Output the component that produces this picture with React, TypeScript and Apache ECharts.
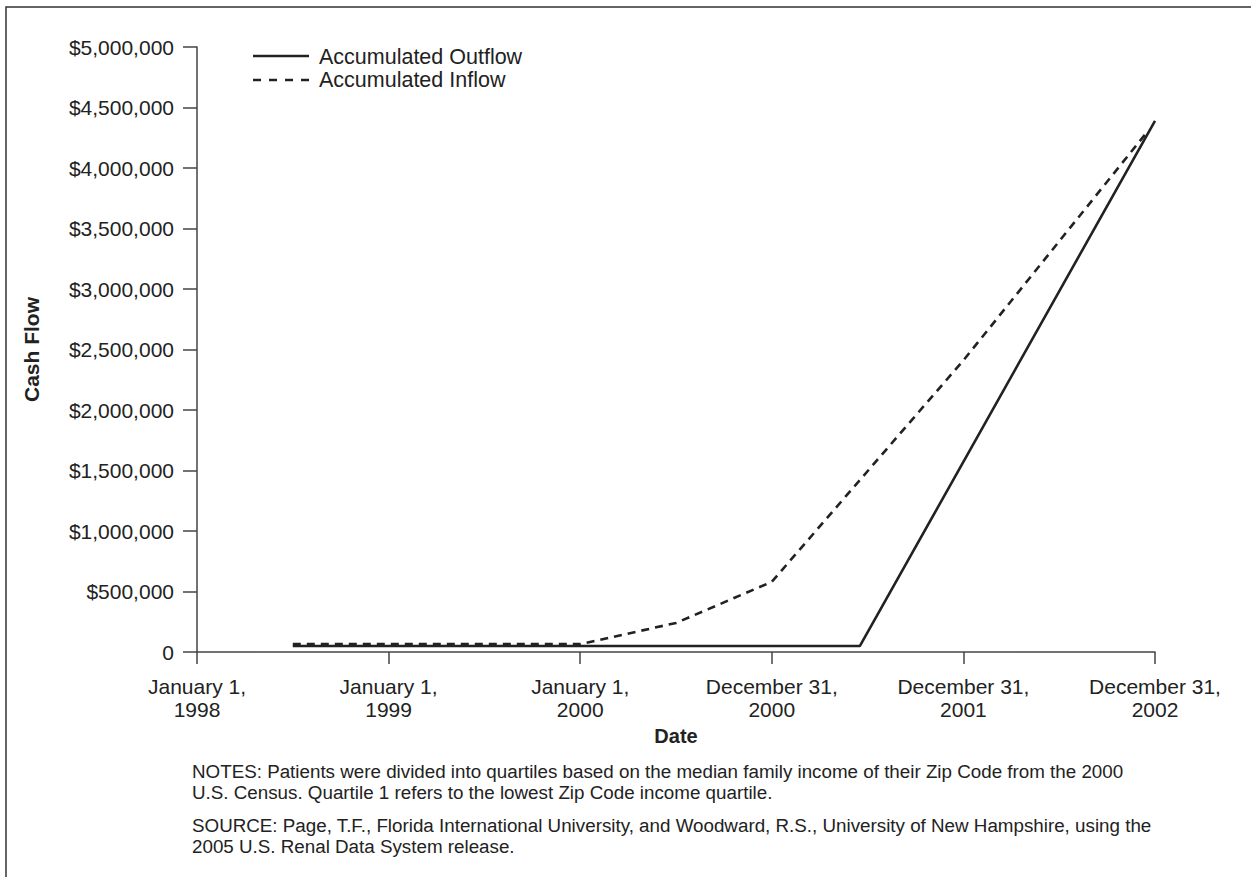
import React, { useEffect, useRef } from "react";
import * as echarts from "echarts";

const categories = [
  "January 1,\n1998",
  "January 1,\n1999",
  "January 1,\n2000",
  "December 31,\n2000",
  "December 31,\n2001",
  "December 31,\n2002",
];

// x positions on the date axis (0 = January 1, 1998 ... 5 = December 31, 2002)
const outflowX = [0.5, 3.46, 5];
const outflowY = [50000, 50000, 4390000];

const inflowX = [0.5, 2, 2.5, 3, 4, 4.96];
const inflowY = [65000, 65000, 240000, 580000, 2410000, 4300000];

const yTicks = { min: 0, max: 5000000, interval: 500000 };

const seriesNames = ["Accumulated Outflow", "Accumulated Inflow"];

const notes = [
  "NOTES: Patients were divided into quartiles based on the median family income of their Zip Code from the 2000",
  "U.S. Census. Quartile 1 refers to the lowest Zip Code income quartile.",
];
const source = [
  "SOURCE: Page, T.F., Florida International University, and Woodward, R.S., University of New Hampshire, using the",
  "2005 U.S. Renal Data System release.",
];

const FONT = "'Liberation Sans', Arial, Helvetica, sans-serif";
const INK = "#222";
const AXIS = "#444";
const DASH = [8, 6];

function pairs(xs: number[], ys: number[]) {
  return xs.map((x, i) => [x, ys[i]]);
}

function money(v: number) {
  if (v === 0) return "0";
  return "$" + v.toLocaleString("en-US");
}

export default function App() {
  const ref = useRef<HTMLDivElement>(null);

  useEffect(() => {
    if (!ref.current) return;
    const chart = echarts.init(ref.current, undefined, { renderer: "svg" });
    chart.setOption({
      animation: false,
      backgroundColor: "#fff",
      textStyle: { fontFamily: FONT },
      grid: { left: 197, right: 96, top: 47, bottom: 225, containLabel: false },
      xAxis: {
        type: "value",
        min: 0,
        max: 5,
        interval: 1,
        name: "Date",
        nameLocation: "middle",
        nameGap: 71,
        nameTextStyle: { fontSize: 20, fontWeight: "bold", color: INK, fontFamily: FONT },
        axisLine: { show: true, lineStyle: { color: AXIS, width: 1.5 } },
        axisTick: { show: true, length: 12, lineStyle: { color: AXIS, width: 1.5 } },
        splitLine: { show: false },
        axisLabel: {
          margin: 23,
          fontSize: 21,
          lineHeight: 23,
          color: INK,
          fontFamily: FONT,
          formatter: (v: number) => categories[Math.round(v)] ?? "",
        },
      },
      yAxis: {
        type: "value",
        min: yTicks.min,
        max: yTicks.max,
        interval: yTicks.interval,
        name: "Cash Flow",
        nameLocation: "middle",
        nameGap: 155,
        nameRotate: 90,
        nameTextStyle: { fontSize: 21, fontWeight: "bold", color: INK, fontFamily: FONT },
        axisLine: { show: true, lineStyle: { color: AXIS, width: 1.5 } },
        axisTick: { show: true, length: 14, lineStyle: { color: AXIS, width: 1.5 } },
        splitLine: { show: false },
        axisLabel: {
          margin: 23,
          fontSize: 21,
          color: INK,
          fontFamily: FONT,
          formatter: money,
        },
      },
      series: [
        {
          name: seriesNames[0],
          type: "line",
          symbol: "none",
          data: pairs(outflowX, outflowY),
          lineStyle: { color: INK, width: 2.6, type: "solid" },
          itemStyle: { color: INK },
        },
        {
          name: seriesNames[1],
          type: "line",
          symbol: "none",
          data: pairs(inflowX, inflowY),
          lineStyle: { color: INK, width: 2.6, type: DASH },
          itemStyle: { color: INK },
        },
      ],
      graphic: [
        {
          type: "rect",
          shape: { x: 6, y: 7, width: 1260, height: 890 },
          style: { fill: "none", stroke: "#333", lineWidth: 1.5 },
          silent: true,
        },
        // legend
        {
          type: "line",
          shape: { x1: 253, y1: 56, x2: 309, y2: 56 },
          style: { stroke: INK, lineWidth: 2.6 },
        },
        {
          type: "text",
          x: 319,
          y: 57,
          style: {
            text: seriesNames[0],
            fontSize: 21.5,
            fill: INK,
            fontFamily: FONT,
            verticalAlign: "middle",
          },
        },
        {
          type: "line",
          shape: { x1: 253, y1: 80, x2: 309, y2: 80 },
          style: { stroke: INK, lineWidth: 2.6, lineDash: [8, 8] },
        },
        {
          type: "text",
          x: 319,
          y: 80,
          style: {
            text: seriesNames[1],
            fontSize: 21.5,
            fill: INK,
            fontFamily: FONT,
            verticalAlign: "middle",
          },
        },
        // notes
        {
          type: "text",
          left: 192,
          top: 761,
          style: {
            text: notes.join("\n"),
            fontSize: 18.8,
            lineHeight: 21,
            fill: INK,
            fontFamily: FONT,
          },
        },
        {
          type: "text",
          left: 192,
          top: 815,
          style: {
            text: source.join("\n"),
            fontSize: 18.8,
            lineHeight: 21,
            fill: INK,
            fontFamily: FONT,
          },
        },
      ],
    });
    return () => chart.dispose();
  }, []);

  return (
    <div
      ref={ref}
      style={{ position: "fixed", left: 0, top: 0, width: 1251, height: 877, background: "#fff" }}
    />
  );
}
